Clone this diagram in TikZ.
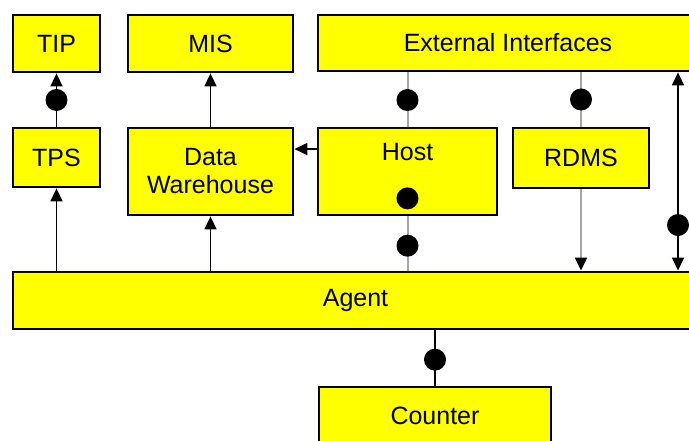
\documentclass[tikz,border=0pt]{standalone}
\usepackage{fontspec}
\setmainfont{Liberation Sans}
\usetikzlibrary{arrows.meta, calc}
\definecolor{boxyellow}{RGB}{255,255,0}

\begin{document}
\begin{tikzpicture}[x = 1pt, y = 1pt, font = \fontsize{25}{28}\selectfont,
  box/.style = {draw, line width = 2.8pt, fill = boxyellow, inner sep = 0, align = center},
  dot/.style = {circle, fill = black, inner sep = 0, minimum size = 22pt},
  link/.style = {line width = 1.5pt},
  glink/.style = {line width = 2pt, gray!70},
  tip/.style = {-{Triangle[length = 13pt, width = 12pt, color = black]}}]
\useasboundingbox (0,0) rectangle (689,441);
\node[box, minimum width = 87, minimum height = 57](TIP) at (56.5,397.5){TIP};
\node[box, minimum width = 165, minimum height = 57](MIS) at (210.5,397.5){MIS};
\node[box, minimum width = 380, minimum height = 56](EI) at (508,398){External Interfaces};
\node[box, minimum width = 87, minimum height = 59](TPS) at (56.5,283.5){TPS};
\node[box, minimum width = 165, minimum height = 87](DW) at (210.5,269.5){Data\\Warehouse};
\node[box, minimum width = 179, minimum height = 87, label = {[anchor = center, yshift = -25]north:Host}](Host) at (407.5,269.5){};
\node[dot](hdot) at ($(Host.south)+(0,18)$){};
\node[box, minimum width = 136, minimum height = 60](RDMS) at (581,283){RDMS};
\node[box, minimum width = 685, minimum height = 57](Agent) at (355.5,140.5){Agent};
\node[box, minimum width = 232, minimum height = 57](Counter) at (435,25.5){Counter};
\coordinate (edge) at (678,0);

\draw[link, tip] (TPS) -- node[dot, pos = .5]{} (TIP);
\draw[link, tip] (DW) -- (MIS);
\draw[link, tip] ($(Host.north west)!.25!(Host.south west)$) -- ($(DW.north east)!.25!(DW.south east)$);
\draw[link, tip] (Agent.north -| TPS) -- (TPS);
\draw[link, tip] (Agent.north -| DW) -- (DW);
\draw[glink] (Host) -- node[dot, pos = .49]{} (EI.south -| Host);
\draw[glink] (Host) -- node[dot, pos = .54]{} (Agent.north -| Host);
\draw[glink] (RDMS) -- node[dot, pos = .5]{} (EI.south -| RDMS);
\draw[glink, tip] (RDMS) -- (Agent.north -| RDMS);
\draw[link, {Triangle[length = 13pt, width = 12pt]}-{Triangle[length = 13pt, width = 12pt]}] (Agent.north -| edge) -- node[dot, pos = .23]{} (EI.south -| edge);
\draw[link] (Counter) -- node[dot, pos = .47]{} (Agent.south -| Counter);
\end{tikzpicture}
\end{document}
